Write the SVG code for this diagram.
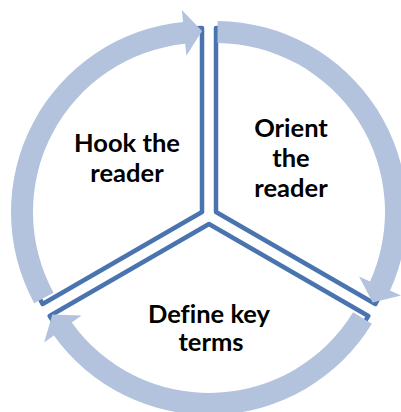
<svg xmlns="http://www.w3.org/2000/svg" width="401" height="412" viewBox="0 0 401 412">
<style>
.wedge{fill:#ffffff;stroke:#4A74B0;stroke-width:4.5;stroke-linejoin:round}
.arrow{fill:#B3C3DE;stroke:none}
.lbl{font-family:Lato,"Open Sans","Liberation Sans",sans-serif;font-weight:bold;font-size:25.5px;fill:#000;text-anchor:middle;font-variant-ligatures:none}
</style>
<rect width="401" height="412" fill="#ffffff"/>
<g id="node-hook">
<path class="wedge" d="M202 212 L42.65 304 A184 184 0 0 1 202 28 Z"/>
<text class="lbl" x="127" y="152">Hook the</text>
<text class="lbl" x="127" y="182">reader</text>
</g>
<g id="node-orient">
<path class="wedge" d="M216 212 L216 28 A184 184 0 0 1 375.35 304 Z"/>
<text class="lbl" x="291" y="137">Orient</text>
<text class="lbl" x="291" y="167">the</text>
<text class="lbl" x="291" y="197">reader</text>
</g>
<g id="node-define">
<path class="wedge" d="M209 224 L368.35 316 A184 184 0 0 1 49.65 316 Z"/>
<text class="lbl" x="209" y="323">Define key</text>
<text class="lbl" x="211" y="351">terms</text>
</g>
<g id="connectors">
<path class="arrow" d="M34.15 303.15 A191 191 0 0 1 183.03 21.94 L181.84 9.99 L202.04 31.09 L186.41 55.77 L185.22 43.83 A169 169 0 0 0 53.48 292.65 Z"/>
<path class="arrow" d="M217.67 21.01 A191 191 0 0 1 390.08 290.6 L401.01 295.53 L372.64 302.48 L359.09 276.61 L370.03 281.54 A169 169 0 0 0 217.47 43.01 Z"/>
<path class="arrow" d="M371.85 323.8 A191 191 0 0 1 53.89 335.45 L44.14 342.45 L52.32 314.41 L81.5 315.61 L71.76 322.61 A169 169 0 0 0 353.09 312.3 Z"/>
</g>
</svg>
